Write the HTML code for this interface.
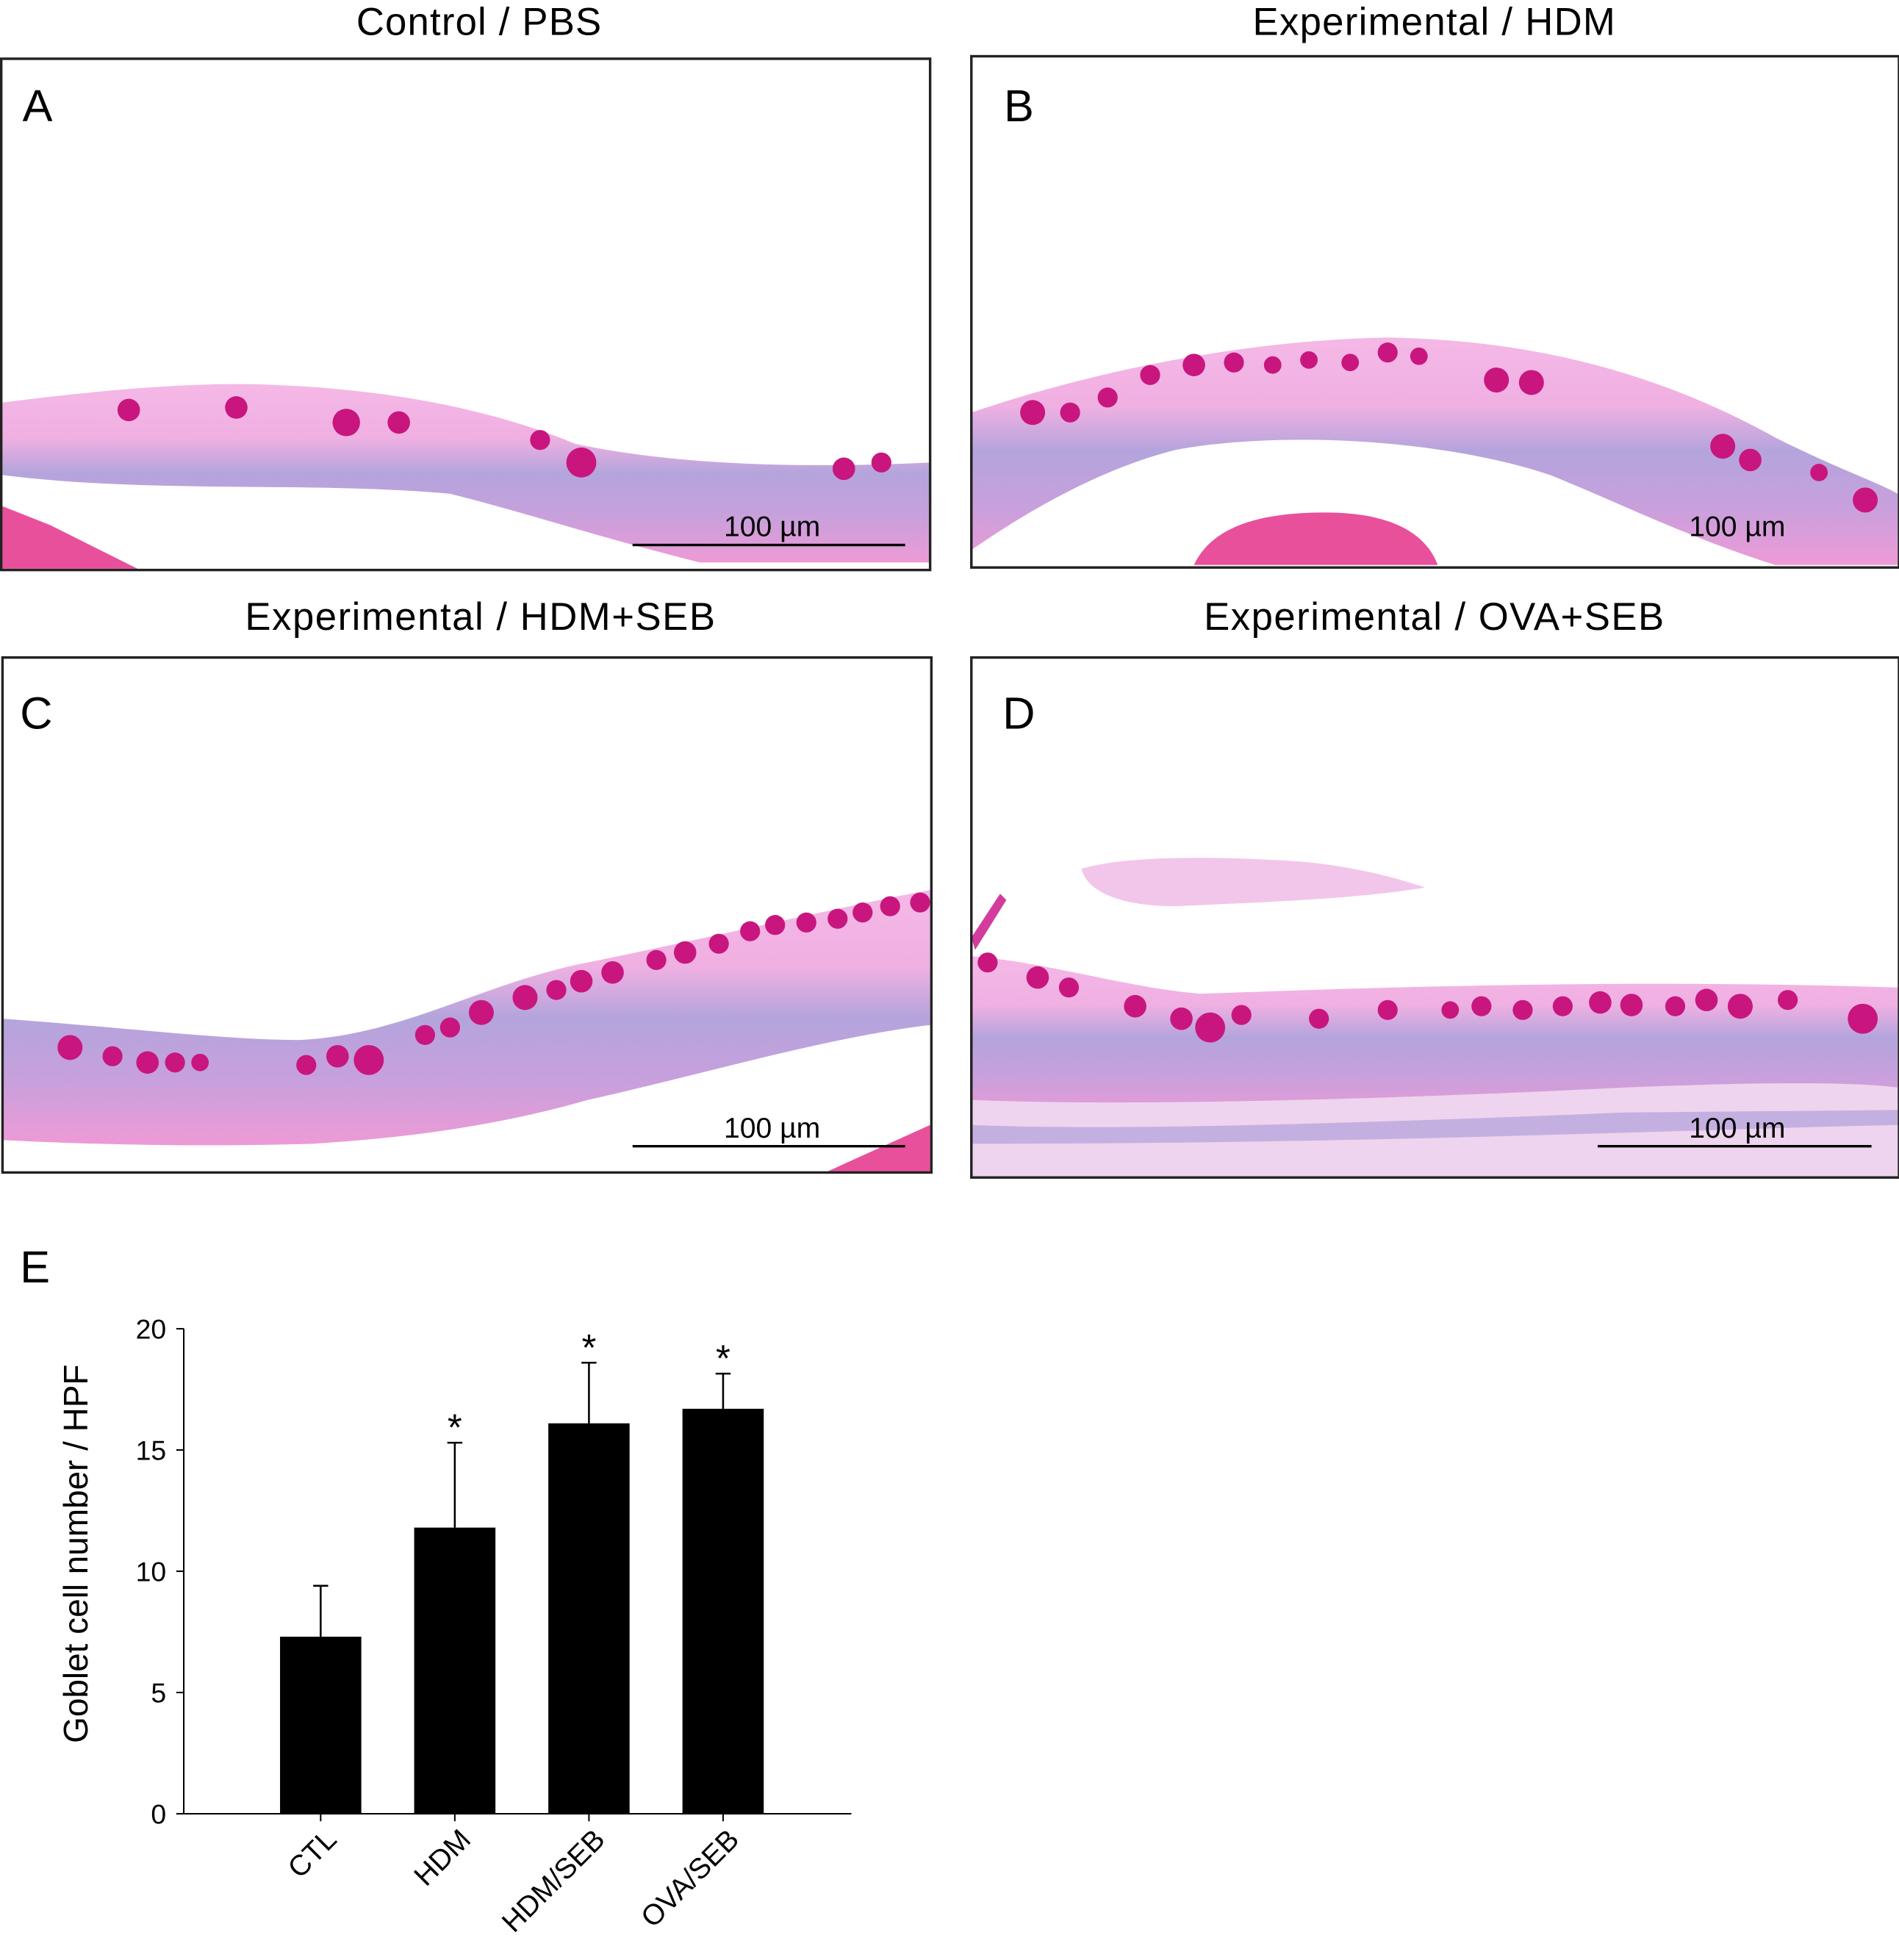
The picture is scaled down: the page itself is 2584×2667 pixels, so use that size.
<!DOCTYPE html>
<html><head><meta charset="utf-8"><style>
html,body{margin:0;padding:0;background:#fff;}
svg{display:block;font-family:"Liberation Sans",sans-serif;}
</style></head><body>
<svg width="2584" height="2667" viewBox="0 0 1519 1568" preserveAspectRatio="none" xmlns="http://www.w3.org/2000/svg">
<defs>
<linearGradient id="tis" x1="0" y1="0" x2="0" y2="1">
<stop offset="0" stop-color="#f4b8e6"/><stop offset="0.3" stop-color="#f0b0e2"/>
<stop offset="0.5" stop-color="#b4a4dc"/><stop offset="0.75" stop-color="#c8a0dc"/><stop offset="1" stop-color="#ee9ad6"/>
</linearGradient>
</defs>
<!-- Titles -->
<g font-size="31" fill="#000" text-anchor="middle">
<text x="383" y="28" textLength="196">Control / PBS</text>
<text x="1147" y="28" textLength="290">Experimental / HDM</text>
<text x="384" y="504" textLength="376">Experimental / HDM+SEB</text>
<text x="1147" y="504" textLength="368">Experimental / OVA+SEB</text>
</g>

<!-- Panel A -->
<g>
<path d="M2,322 C80,312 160,305 220,308 C320,312 400,330 460,355 C540,372 640,375 744,370 L744,450 L560,450 C480,430 420,410 360,395 C250,385 120,395 2,380 Z" fill="url(#tis)"/>
<path d="M2,405 L40,420 L110,455 L2,455 Z" fill="#e8509c"/>
<g fill="#c8167e">
<circle cx="103" cy="328" r="9"/><circle cx="189" cy="326" r="9"/><circle cx="277" cy="338" r="11"/><circle cx="319" cy="338" r="9"/><circle cx="432" cy="352" r="8"/><circle cx="465" cy="370" r="12"/><circle cx="675" cy="375" r="9"/><circle cx="705" cy="370" r="8"/>
</g>
<rect x="1" y="47" width="743" height="409" fill="none" stroke="#222" stroke-width="2"/>
<text x="18" y="97" font-size="36">A</text>
<line x1="506" y1="436" x2="724" y2="436" stroke="#000" stroke-width="2"/>
<text x="579" y="429" font-size="23">100 µm</text>
</g>

<!-- Panel B -->
<g>
<path d="M777,330 C880,295 1000,272 1110,270 C1230,272 1330,300 1420,350 C1470,375 1500,385 1518,395 L1518,452 L1420,452 C1350,430 1290,400 1240,380 C1150,350 1020,345 940,360 C880,375 820,410 777,440 Z" fill="url(#tis)"/>
<path d="M955,452 C970,420 1010,410 1060,410 C1110,410 1140,425 1150,452 Z" fill="#e8509c"/>
<g fill="#c8167e">
<circle cx="826" cy="330" r="10"/><circle cx="856" cy="330" r="8"/><circle cx="886" cy="318" r="8"/><circle cx="920" cy="300" r="8"/><circle cx="955" cy="292" r="9"/><circle cx="987" cy="290" r="8"/><circle cx="1018" cy="292" r="7"/><circle cx="1047" cy="288" r="7"/><circle cx="1080" cy="290" r="7"/><circle cx="1110" cy="282" r="8"/><circle cx="1135" cy="285" r="7"/><circle cx="1197" cy="304" r="10"/><circle cx="1225" cy="306" r="10"/><circle cx="1378" cy="357" r="10"/><circle cx="1400" cy="368" r="9"/><circle cx="1455" cy="378" r="7"/><circle cx="1492" cy="400" r="10"/>
</g>
<rect x="777" y="45" width="742" height="409" fill="none" stroke="#222" stroke-width="2"/>
<text x="803" y="97" font-size="36">B</text>
<text x="1351" y="429" font-size="23">100 µm</text>
</g>

<!-- Panel C -->
<g>
<path d="M2,815 C100,822 180,832 240,832 C320,828 380,790 460,772 C560,752 660,728 744,712 L744,820 C660,830 560,860 470,880 C400,900 330,910 250,915 C150,918 60,915 2,912 Z" fill="url(#tis)"/>
<path d="M660,938 L744,900 L744,938 Z" fill="#e8509c"/>
<g fill="#c8167e">
<circle cx="56" cy="838" r="10"/><circle cx="90" cy="845" r="8"/><circle cx="118" cy="850" r="9"/><circle cx="140" cy="850" r="8"/><circle cx="160" cy="850" r="7"/><circle cx="245" cy="852" r="8"/><circle cx="270" cy="845" r="9"/><circle cx="295" cy="848" r="12"/><circle cx="340" cy="828" r="8"/><circle cx="360" cy="822" r="8"/><circle cx="385" cy="810" r="10"/><circle cx="420" cy="798" r="10"/><circle cx="445" cy="792" r="8"/><circle cx="465" cy="785" r="9"/><circle cx="490" cy="778" r="9"/><circle cx="525" cy="768" r="8"/><circle cx="548" cy="762" r="9"/><circle cx="575" cy="755" r="8"/><circle cx="600" cy="745" r="8"/><circle cx="620" cy="740" r="8"/><circle cx="645" cy="738" r="8"/><circle cx="670" cy="735" r="8"/><circle cx="690" cy="730" r="8"/><circle cx="712" cy="725" r="8"/><circle cx="736" cy="722" r="8"/>
</g>
<rect x="2" y="526" width="743" height="412" fill="none" stroke="#222" stroke-width="2"/>
<text x="16" y="583" font-size="36">C</text>
<line x1="506" y1="917" x2="724" y2="917" stroke="#000" stroke-width="2"/>
<text x="579" y="910" font-size="23">100 µm</text>
</g>

<!-- Panel D -->
<g>
<path d="M777,765 C840,770 900,790 960,795 C1100,790 1300,783 1518,790 L1518,880 C1300,880 1100,885 960,895 L777,890 Z" fill="url(#tis)"/>
<path d="M777,880 C900,885 1100,880 1300,870 C1400,866 1480,865 1518,870 L1518,942 L777,942 Z" fill="#eed4ee"/>
<path d="M777,900 C900,905 1100,898 1300,890 L1518,888 L1518,900 C1300,905 1100,915 777,915 Z" fill="#c4b0e0"/>
<path d="M865,695 C900,685 960,685 1020,688 C1070,690 1110,700 1140,710 C1080,720 1000,722 940,725 C900,725 870,715 865,695 Z" fill="#f2c6ea"/>
<path d="M777,750 L800,715 L805,720 L780,760 Z" fill="#d33c9c"/>
<g fill="#c8167e">
<circle cx="790" cy="770" r="8"/><circle cx="830" cy="782" r="9"/><circle cx="855" cy="790" r="8"/><circle cx="908" cy="805" r="9"/><circle cx="945" cy="815" r="9"/><circle cx="968" cy="822" r="12"/><circle cx="993" cy="812" r="8"/><circle cx="1055" cy="815" r="8"/><circle cx="1110" cy="808" r="8"/><circle cx="1160" cy="808" r="7"/><circle cx="1185" cy="805" r="8"/><circle cx="1218" cy="808" r="8"/><circle cx="1250" cy="805" r="8"/><circle cx="1280" cy="802" r="9"/><circle cx="1305" cy="804" r="9"/><circle cx="1340" cy="805" r="8"/><circle cx="1365" cy="800" r="9"/><circle cx="1392" cy="805" r="10"/><circle cx="1430" cy="800" r="8"/><circle cx="1490" cy="815" r="12"/>
</g>
<rect x="777" y="526" width="742" height="416" fill="none" stroke="#222" stroke-width="2"/>
<text x="802" y="583" font-size="36">D</text>
<line x1="1278" y1="917" x2="1497" y2="917" stroke="#000" stroke-width="2"/>
<text x="1351" y="910" font-size="23">100 µm</text>
</g>

<!-- Panel E chart -->
<text x="16" y="1026" font-size="36">E</text>
<g id="chart"></g>
</svg>
<script>
const categories = ["CTL", "HDM", "HDM/SEB", "OVA/SEB"];
const means = [7.3, 11.8, 16.1, 16.7];
const errors = [2.1, 3.5, 2.5, 1.45];
const significant = [false, true, true, true];
const yTicks = [0, 5, 10, 15, 20];

const NS = "http://www.w3.org/2000/svg";
const g = document.getElementById('chart');
const x0 = 147, x1 = 681, yBase = 1451, yTop = 1063, yMax = 20;
const firstCenter = 256.5, step = 107.3, barW = 65;
function y(v){ return yBase - v / yMax * (yBase - yTop); }
function xc(i){ return firstCenter + i * step; }
function mk(tag, attrs){ const e = document.createElementNS(NS, tag); for (const k in attrs) e.setAttribute(k, attrs[k]); g.appendChild(e); return e; }

let e = mk('line', {x1:x0, y1:yTop, x2:x0, y2:yBase, stroke:'#000', 'stroke-width':1.2});


e = mk('line', {x1:x0, y1:yBase, x2:x1, y2:yBase, stroke:'#000', 'stroke-width':1.2});



yTicks.forEach(t => {
  const tk = mk('line', {x1:x0-6, y1:y(t), x2:x0, y2:y(t), stroke:'#000', 'stroke-width':1.2});
  
  
  const lb = mk('text', {x:x0-14, y:y(t)+8, 'font-size':22, 'text-anchor':'end'});
  lb.textContent = t;
  
  
});

categories.forEach((c, i) => {
  const cx = xc(i);
  const bar = mk('rect', {x:cx-barW/2, y:y(means[i]), width:barW, height:yBase-y(means[i]), fill:'#000'});
  
  
  const top = y(means[i] + errors[i]);
  const eb = mk('line', {x1:cx, y1:y(means[i]), x2:cx, y2:top, stroke:'#000', 'stroke-width':1.5});
  
  
  const cap = mk('line', {x1:cx-6, y1:top, x2:cx+6, y2:top, stroke:'#000', 'stroke-width':1.5});
  
  
  if (significant[i]) {
    const s = mk('text', {x:cx, y:top-2, 'font-size':30, 'text-anchor':'middle'});
    s.textContent = '*';
    
    
  }
  const xt = mk('line', {x1:cx, y1:yBase, x2:cx, y2:yBase+6, stroke:'#000', 'stroke-width':1.2});
  
  
  const lx = cx + 14, ly = yBase + 22;
  const lb = mk('text', {x:lx, y:ly, 'font-size':23, 'text-anchor':'end', transform:'rotate(-45 ' + lx + ' ' + ly + ')'});
  lb.textContent = c;
  
  
});

const yt = mk('text', {x:70, y:1243, 'font-size':27, 'text-anchor':'middle', transform:'rotate(-90 70 1243)'});
yt.textContent = 'Goblet cell number / HPF';


</script>
</body></html>
